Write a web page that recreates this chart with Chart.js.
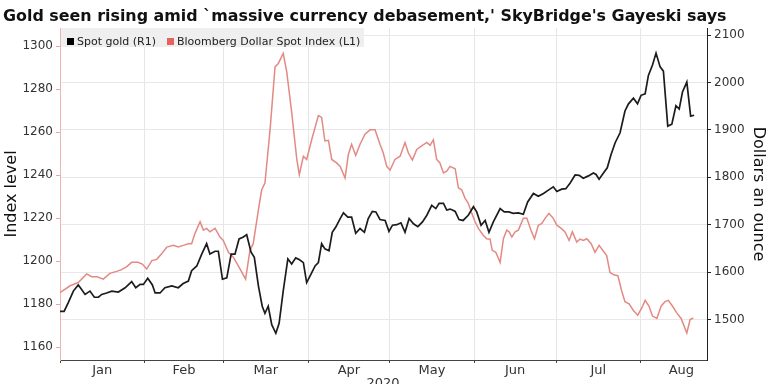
<!DOCTYPE html>
<html>
<head>
<meta charset="utf-8">
<script src="https://cdn.jsdelivr.net/npm/chart.js@4"></script>
<style>
  html, body { margin: 0; padding: 0; background: #fff; }
  #wrap { width: 768px; height: 384px; position: relative; }
</style>
</head>
<body>
<div id="wrap"><canvas id="grafico" width="768" height="384"></canvas></div>
<script>
// Textos
const titulo = "Gold seen rising amid `massive currency debasement,' SkyBridge's Gayeski says";
const anio = "2020";

// Eje X: dias desde el 1 de enero
const meses = ["Jan", "Feb", "Mar", "Apr", "May", "Jun", "Jul", "Aug"];
const inicioMes = [0, 31, 60, 91, 121, 152, 182, 213];
const centroMes = [15.5, 45.5, 75.5, 106, 136.5, 167, 197.5, 228];

// Marcas de los ejes Y
const ticksIzq = [1160, 1180, 1200, 1220, 1240, 1260, 1280, 1300];
const ticksDer = [1500, 1600, 1700, 1800, 1900, 2000, 2100];

// Bloomberg Dollar Spot Index (eje izquierdo)
const dolarDias = [0, 3.7, 6.7, 9.8, 11.6, 13.6, 15.9, 18.3, 20.8, 22.6, 24.5, 26.3, 28.6, 30.2, 31.8, 33.7, 35.5, 37.3, 39.2, 41.6,
  43.4, 45.2, 47.1, 48.3, 49.5, 51.4, 52.6, 53.8, 55, 56.9, 58.7, 59.9, 61.8, 63.6, 66.1, 68.1, 69.7, 70.9, 72.8, 74,
  75.2, 77.1, 78.9, 80.1, 81.9, 83.2, 85, 86.9, 87.8, 89.3, 90.5, 92.4, 94.8, 96, 97.2, 98.5, 99.7, 101.5, 102.8, 104.6,
  105.8, 107, 108.5, 110.1, 111.9, 113.8, 115.6, 117.4, 118.6, 119.9, 121.1, 122.9, 124.8, 126.6, 127.8, 129.3, 130.9, 132.7, 134.6, 135.8,
  137, 138.2, 139.4, 140.7, 141.9, 143.1, 145, 146.2, 147.4, 148.6, 149.8, 151.1, 152.3, 153.5, 155.3, 156.6, 157.8, 158.6, 159.9, 161.5,
  162.7, 163.9, 164.8, 165.8, 167, 168.2, 170, 171.3, 172.8, 174.1, 175.5, 176.8, 178, 179.4, 181, 182.3, 183.9, 185.3, 186.8, 188,
  189.6, 190.8, 192, 193.3, 194.9, 196.3, 197.8, 199.4, 200.6, 201.8, 203.4, 204.7, 206.1, 207.3, 208.8, 210.4, 212, 213.5, 214.7, 216.1,
  217.4, 219, 220.6, 222, 223.2, 224.7, 226.3, 227.9, 230, 231.2, 232.4];
const dolar = [1185.3, 1188.5, 1190, 1194, 1192.7, 1192.7, 1191.6, 1194.3, 1195.2, 1196, 1197.4, 1199.4, 1199.4, 1198.6, 1196.3, 1200.2, 1200.8, 1203.4, 1206.5, 1207.3,
  1206.6, 1207.3, 1208.1, 1208.1, 1212.8, 1218.3, 1214.4, 1215.2, 1213.6, 1215.2, 1211.2, 1209.6, 1204.1, 1201.8, 1196.3, 1191.6, 1205, 1208.1, 1223.8, 1233.2,
  1236.3, 1261.4, 1290.4, 1292, 1296.7, 1288.1, 1269.3, 1247.3, 1240.2, 1248.8, 1247.3, 1256.7, 1267.7, 1266.9, 1255.9, 1256.2, 1247.3, 1245.7, 1244.1, 1238.7,
  1249.6, 1254.4, 1249.2, 1254.4, 1259.1, 1261.1, 1261.1, 1254.4, 1250.4, 1244.1, 1242.3, 1247.3, 1248.8, 1255.2, 1250.4, 1247, 1252, 1253.6, 1255.2, 1253.9,
  1256.4, 1247.3, 1245.7, 1241, 1241.8, 1244.1, 1243, 1234, 1233.2, 1229.3, 1226.9, 1222.2, 1218.3, 1215.2, 1212, 1210.4, 1210.2, 1205, 1204.1, 1199.4,
  1210.4, 1214.4, 1213.6, 1211.2, 1213.6, 1214.4, 1219.9, 1219.9, 1214.4, 1210.4, 1216.7, 1217.5, 1219.9, 1222.2, 1219.9, 1216.7, 1215.2, 1213.6, 1209.6, 1213.6,
  1208.9, 1210.2, 1209.6, 1210.4, 1208.1, 1204.1, 1207.3, 1204.6, 1202.6, 1194.7, 1193.5, 1193.2, 1186.1, 1181.1, 1180.1, 1177, 1174.8, 1178.3, 1181.7, 1179.1,
  1174.4, 1173.3, 1179.1, 1181.1, 1181.7, 1179.1, 1175.9, 1173.3, 1166.5, 1172.8, 1173.5];

// Spot gold (eje derecho)
const oroDias = [0, 1.5, 3, 4.9, 6.7, 8, 9.2, 11, 12.6, 14.1, 15.3, 17.1, 19, 21.4, 23.9, 26.3, 27.8, 29.4, 30.6, 32.2,
  33.9, 34.9, 36.7, 38.5, 41, 43.4, 45.2, 47.1, 48.3, 50.2, 52, 53.8, 55, 56.9, 58.1, 59.6, 61.2, 62.8, 64.2, 65.7,
  67.3, 68.5, 70.1, 71.3, 72.8, 74.2, 75.2, 76.4, 77.7, 79.2, 80.4, 81.9, 83.6, 85, 86.5, 87.9, 89.3, 90.5, 92.1, 93.6,
  94.8, 96, 97.2, 98.7, 99.9, 101.2, 102.8, 104, 105.6, 107, 108.5, 110.1, 111.7, 113.1, 114.6, 115.9, 117.4, 119.3, 120.7, 122,
  123.6, 125.1, 126.6, 128.1, 129.7, 131.3, 133, 134.6, 136.4, 137.9, 139.1, 140.7, 141.9, 143.1, 144, 145, 146.4, 147.9, 149.8, 151.7,
  152.9, 154.5, 156, 157.4, 159, 161.5, 163, 164.7, 166.3, 168.2, 170, 171.6, 173.7, 175.5, 177.4, 179.2, 181, 182.3, 184.1, 185.6,
  187.2, 189, 190.5, 192, 193.9, 195.7, 196.7, 197.8, 199.4, 200.8, 202.2, 203.7, 205.5, 207.3, 208.6, 210.4, 211.9, 213.2, 214.7, 215.9,
  217.4, 218.7, 220.2, 221.4, 223, 224.5, 226, 227.2, 228.4, 230, 231.4, 232.7];
const oro = [1517, 1517, 1535, 1560, 1573, 1563, 1553, 1560, 1547, 1547, 1553, 1556, 1560, 1558, 1567, 1580, 1567, 1574, 1574, 1587,
  1573, 1556, 1556, 1567, 1571, 1567, 1576, 1581, 1603, 1613, 1638, 1660, 1638, 1644, 1644, 1585, 1588, 1638, 1638, 1670,
  1674, 1679, 1642, 1631, 1571, 1528, 1513, 1528, 1489, 1471, 1492, 1560, 1628, 1617, 1630, 1626, 1620, 1578, 1596, 1613,
  1620, 1660, 1649, 1645, 1684, 1695, 1713, 1725, 1716, 1716, 1682, 1692, 1684, 1713, 1728, 1727, 1711, 1709, 1686, 1699,
  1700, 1704, 1684, 1713, 1702, 1696, 1706, 1720, 1741, 1734, 1745, 1745, 1731, 1733, 1731, 1728, 1711, 1709, 1720, 1738,
  1727, 1699, 1709, 1684, 1706, 1734, 1727, 1727, 1724, 1725, 1722, 1748, 1766, 1760, 1766, 1773, 1780, 1770, 1775, 1776,
  1788, 1805, 1804, 1798, 1803, 1809, 1806, 1796, 1809, 1820, 1848, 1873, 1894, 1940, 1955, 1967, 1955, 1973, 1976, 2015,
  2037, 2062, 2033, 2024, 1908, 1912, 1951, 1944, 1980, 2001, 1929, 1931];

const fuente = '"DejaVu Sans", sans-serif';
const colorOro = "#1c1c1c";
const colorDolar = "#e38a84";

// Titulo, leyenda y año dibujados a mano
const extras = {
  id: "extras",
  afterDraw(chart) {
    const { ctx, chartArea } = chart;
    ctx.save();
    // titulo
    let size = 17;
    ctx.font = "bold " + size + "px " + fuente;
    const ancho = ctx.measureText(titulo).width;
    size = size * 724 / ancho;
    ctx.font = "bold " + size.toFixed(2) + "px " + fuente;
    ctx.fillStyle = "#111";
    ctx.textBaseline = "alphabetic";
    ctx.fillText(titulo, 3, 21);

    // leyenda
    ctx.fillStyle = "#efefef";
    ctx.fillRect(chartArea.left + 1, chartArea.top, 303, 19);
    ctx.fillStyle = "#000";
    ctx.fillRect(67, 38, 7, 7);
    ctx.fillStyle = "#e8625d";
    ctx.fillRect(167, 38, 7, 7);
    ctx.font = "11px " + fuente;
    ctx.fillStyle = "#222";
    ctx.fillText("Spot gold (R1)", 77, 45);
    ctx.fillText("Bloomberg Dollar Spot Index (L1)", 177, 45);

    // año
    ctx.font = "13px " + fuente;
    ctx.textAlign = "center";
    ctx.textBaseline = "top";
    ctx.fillStyle = "#333";
    ctx.fillText(anio, 383, 377);
    ctx.restore();
  },
};

const ctx = document.getElementById("grafico");
const grafico = new Chart(ctx, {
  type: "line",
  data: {
    datasets: [
      {
        label: "Spot gold (R1)",
        data: oroDias.map((d, i) => ({ x: d, y: oro[i] })),
        borderColor: colorOro,
        borderWidth: 1.7,
        yAxisID: "y1",
      },
      {
        label: "Bloomberg Dollar Spot Index (L1)",
        data: dolarDias.map((d, i) => ({ x: d, y: dolar[i] })),
        borderColor: colorDolar,
        borderWidth: 1.5,
        yAxisID: "y",
      },
    ],
  },
  options: {
    responsive: false,
    animation: false,
    devicePixelRatio: 1,
    elements: { point: { radius: 0 }, line: { tension: 0 } },
    layout: { padding: { top: 28, left: 0, right: 0, bottom: 0 } },
    plugins: { legend: { display: false }, tooltip: { enabled: false } },
    scales: {
      x: {
        type: "linear",
        min: 0,
        max: 237.4,
        afterBuildTicks: (scale) => {
          scale.ticks = inicioMes.concat(centroMes).sort((a, b) => a - b).map((v) => ({ value: v }));
        },
        afterFit: (scale) => { scale.height = 24; },
        ticks: {
          autoSkip: false,
          maxRotation: 0,
          padding: 0,
          color: "#333",
          font: { family: fuente, size: 13 },
          callback: (v) => {
            const i = centroMes.indexOf(v);
            return i >= 0 ? meses[i] : "";
          },
        },
        grid: {
          color: (c) => (c.tick && inicioMes.includes(c.tick.value) ? "#e6e6e6" : "rgba(0,0,0,0)"),
          tickColor: (c) => (c.tick && inicioMes.includes(c.tick.value) ? "#444" : "rgba(0,0,0,0)"),
          tickLength: 3,
        },
        border: { color: "#444", width: 1 },
      },
      y: {
        position: "left",
        min: 1153.95,
        max: 1308.5,
        afterBuildTicks: (scale) => { scale.ticks = ticksIzq.map((v) => ({ value: v })); },
        afterFit: (scale) => { scale.width = 60; },
        ticks: {
          padding: 3,
          color: "#333",
          font: { family: fuente, size: 12 },
          callback: (v) => String(v),
        },
        grid: { drawOnChartArea: false, color: "#eaa8a3", tickLength: 4 },
        border: { color: "#eeb4b0", width: 1 },
        title: { display: true, text: "Index level", color: "#111", font: { family: fuente, size: 16 }, padding: { top: 2 } },
      },
      y1: {
        position: "right",
        min: 1414.6,
        max: 2115,
        afterBuildTicks: (scale) => { scale.ticks = ticksDer.map((v) => ({ value: v })); },
        afterFit: (scale) => { scale.width = 61; },
        ticks: {
          padding: 3,
          color: "#333",
          font: { family: fuente, size: 12 },
          callback: (v) => String(v),
        },
        grid: { color: "#e8e8e8", tickColor: "#222", tickLength: 4 },
        border: { color: "#222", width: 1 },
        title: { display: true, text: "Dollars an ounce", color: "#111", font: { family: fuente, size: 16 }, padding: { top: 0 } },
      },
    },
  },
  plugins: [extras],
});
</script>
</body>
</html>
